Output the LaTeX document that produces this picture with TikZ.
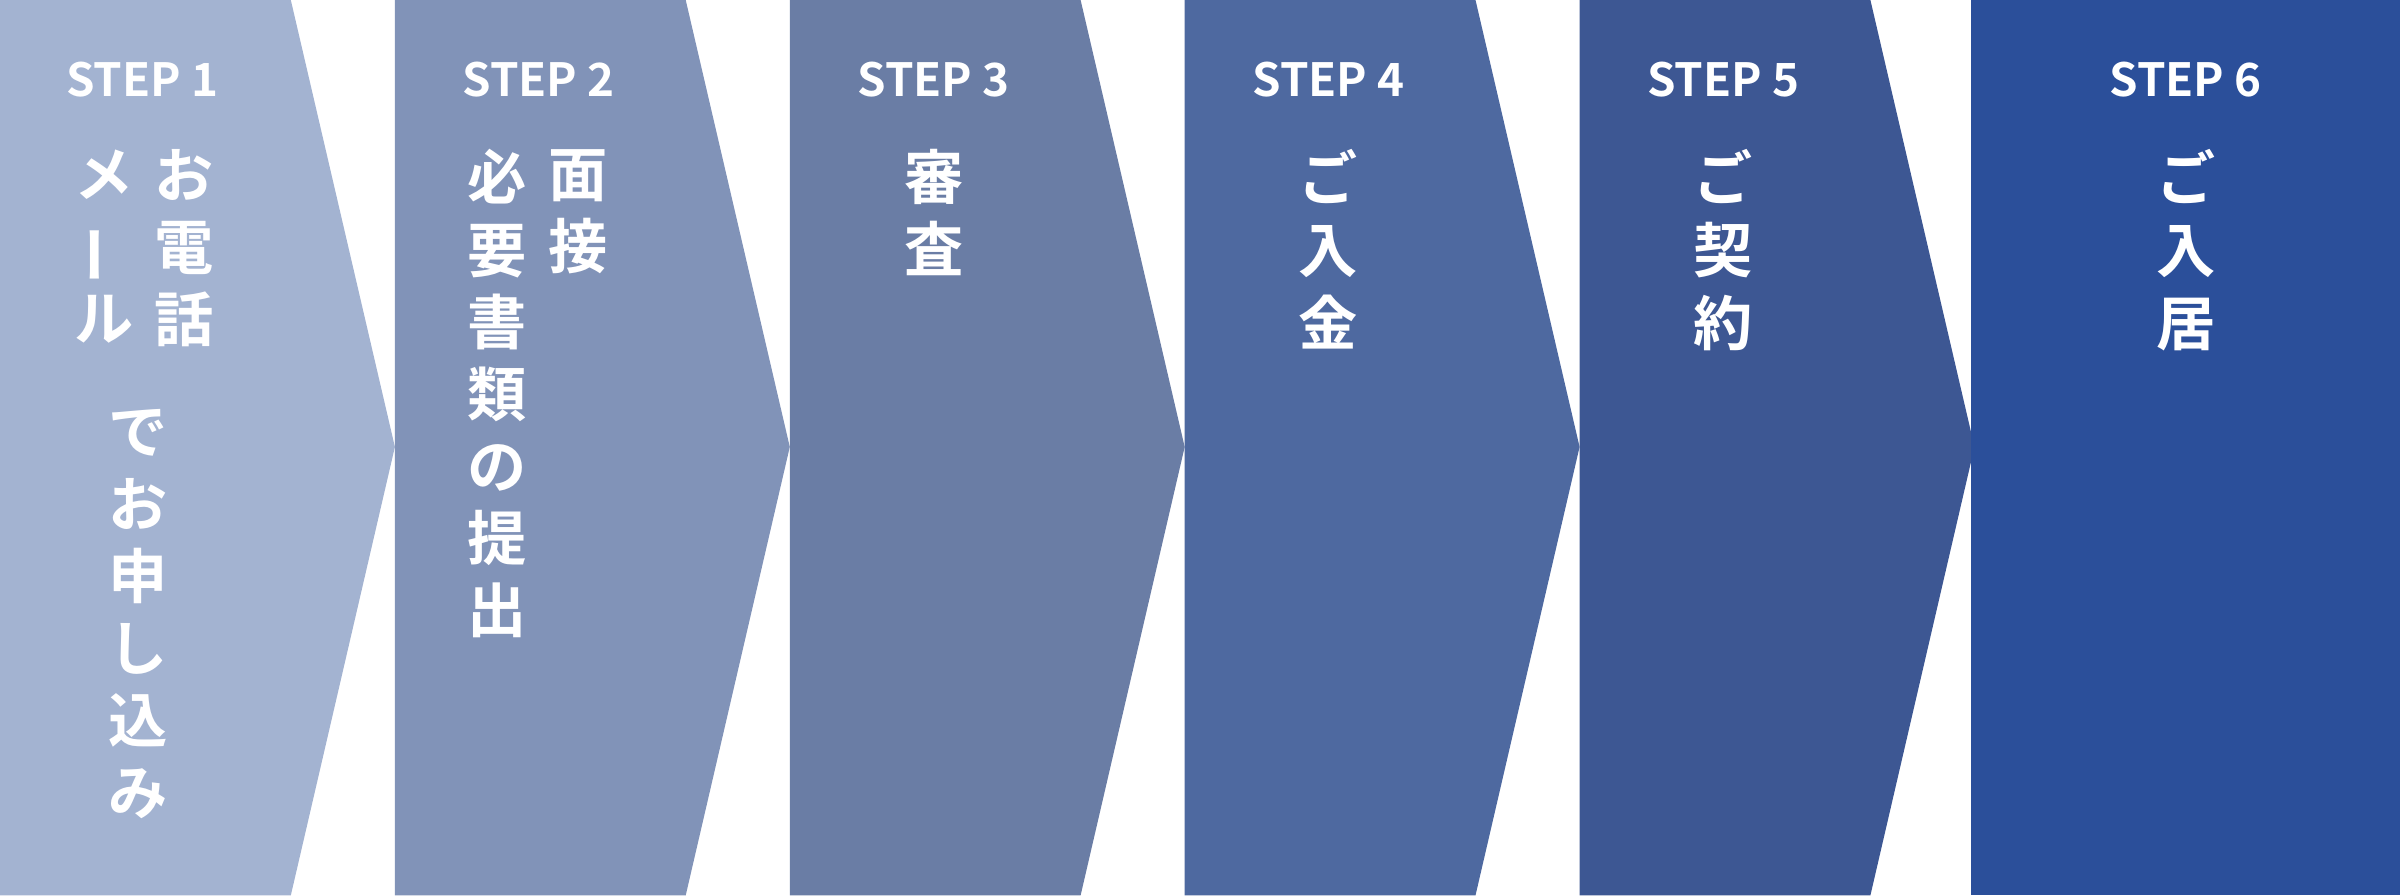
\documentclass[tikz,border=0pt]{standalone}
\usepackage{fontspec}
\newfontfamily\jpfont{Noto Sans CJK JP}[BoldFont={* Bold}]
\newcommand{\vbar}{\rotatebox[origin=c]{90}{ー}}
\begin{document}
\begin{tikzpicture}[x=0.01cm,y=-0.01cm]
% Styles
\tikzstyle{col}=[anchor=north,align=center,text=white,inner sep=0pt,
  font=\jpfont\bfseries\fontsize{11}{13.4}\selectfont]
\tikzstyle{steplabel}=[text=white,inner sep=0pt,font=\jpfont\bfseries\fontsize{8.5}{10}\selectfont]
\useasboundingbox (0,0) rectangle (1568,585);
% the chevrons
\definecolor{c1}{HTML}{A3B3D1}
\definecolor{c2}{HTML}{8193B8}
\definecolor{c3}{HTML}{6A7DA5}
\definecolor{c4}{HTML}{4E69A0}
\definecolor{c5}{HTML}{3D5793}
\definecolor{c6}{HTML}{2B4F9A}
\foreach \i in {1,...,5} {
  \pgfmathsetmacro{\x}{258*(\i-1)}
  \fill[c\i] (\x,0) -- ++(190,0) -- ++(68,292) -- ++(-68,293) -- ++(-190,0) -- cycle;
}
\fill[c6] (1288,0) rectangle (1568,585);
% step labels
\foreach \n/\x in {1/93,2/352,3/610,4/868,5/1126,6/1428}
  \node[steplabel] (step\n) at (\x,52) {STEP \n};
% vertical texts
\node[col] (s1a) at (120,97) {お\\電\\話};
\node[col] (s1b) at (68,97) {メ\\\vbar\\ル};
\node[col] (s1c) at (90,267) {で\\お\\申\\し\\込\\み};
\node[col] (s2a) at (378,97) {面\\接};
\node[col] (s2b) at (325,97) {必\\要\\書\\類\\の\\提\\出};
\node[col] (s3) at (610,97) {審\\査};
\node[col] (s4) at (868,97) {ご\\入\\金};
\node[col] (s5) at (1126,97) {ご\\契\\約};
\node[col] (s6) at (1428,97) {ご\\入\\居};
\end{tikzpicture}
\end{document}
